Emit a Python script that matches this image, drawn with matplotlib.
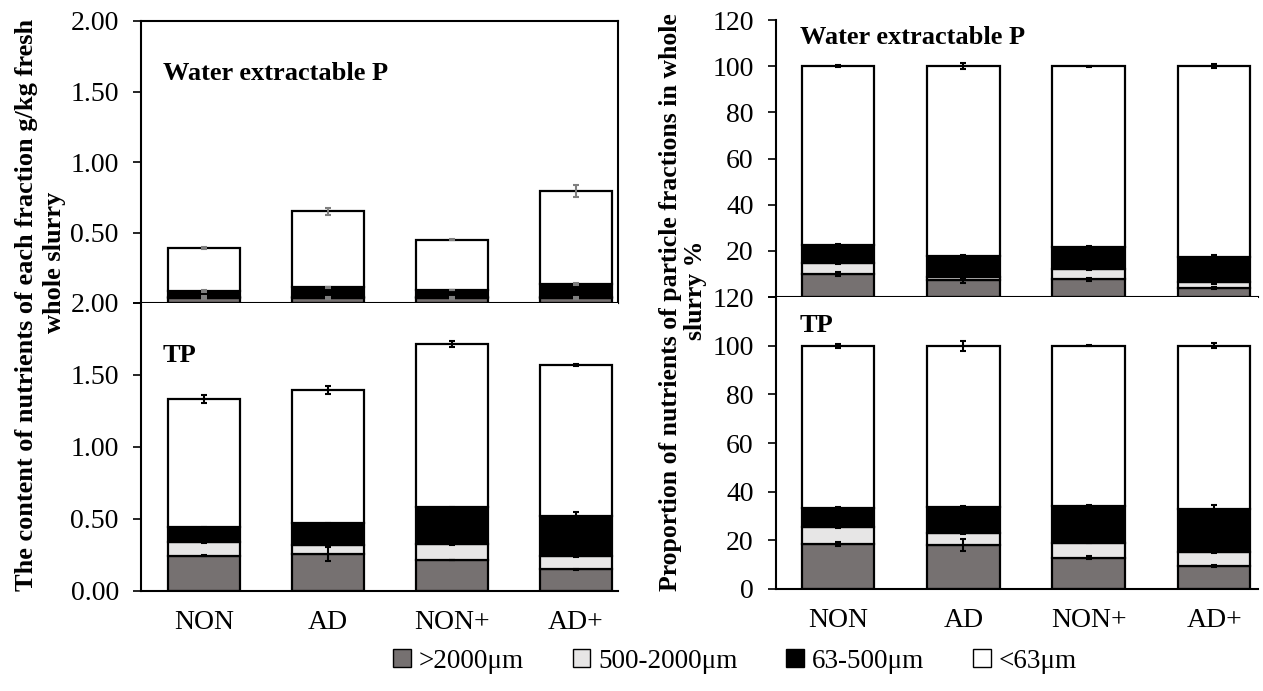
import numpy as np
import matplotlib
matplotlib.use("Agg")
import matplotlib.pyplot as plt
from matplotlib.patches import Patch

plt.rcParams['font.family'] = ['Liberation Serif', 'DejaVu Serif']

# categories and fractions
treatments = ['NON', 'AD', 'NON+', 'AD+']
fractions = ['>2000\u03bcm', '500-2000\u03bcm', '63-500\u03bcm', '<63\u03bcm']
colors = ['#767171', '#e7e6e6', '#000000', '#ffffff']

# Water extractable P, g/kg fresh whole slurry (segment values per fraction)
wep_gt2000 = [0.032, 0.033, 0.032, 0.032]
wep_500_2000 = [0.014, 0.007, 0.008, 0.008]
wep_63_500 = [0.039, 0.071, 0.052, 0.095]
wep_lt63 = [0.305, 0.539, 0.358, 0.660]
wep_err = [[0.003, 0.003, 0.003, 0.003],
           [0.004, 0.002, 0.003, 0.003],
           [0.005, 0.006, 0.003, 0.010],
           [0.005, 0.025, 0.004, 0.040]]

# TP, g/kg fresh whole slurry
tp_gt2000 = [0.242, 0.254, 0.212, 0.147]
tp_500_2000 = [0.093, 0.066, 0.111, 0.091]
tp_63_500 = [0.105, 0.147, 0.256, 0.278]
tp_lt63 = [0.892, 0.928, 1.136, 1.054]
tp_err = [[0.005, 0.050, 0.003, 0.006],
          [0.004, 0.012, 0.003, 0.004],
          [0.003, 0.003, 0.003, 0.030],
          [0.030, 0.025, 0.018, 0.006]]

# Water extractable P, % of whole slurry
wep_pct_gt2000 = [9.9, 7.3, 7.7, 3.9]
wep_pct_500_2000 = [4.9, 1.5, 4.3, 2.5]
wep_pct_63_500 = [7.9, 8.8, 9.7, 11.0]
wep_pct_lt63 = [77.3, 82.4, 78.3, 82.6]
wep_pct_err = [[0.8, 1.2, 0.6, 0.5],
               [0.3, 0.4, 0.3, 0.6],
               [0.3, 0.6, 0.2, 0.8],
               [0.3, 1.3, 0.2, 1.0]]

# TP, % of whole slurry
tp_pct_gt2000 = [18.4, 18.2, 12.8, 9.5]
tp_pct_500_2000 = [7.0, 4.7, 6.3, 5.7]
tp_pct_63_500 = [7.8, 10.8, 15.1, 17.7]
tp_pct_lt63 = [66.8, 66.3, 65.8, 67.1]
tp_pct_err = [[0.8, 2.5, 0.6, 0.5],
              [0.3, 0.5, 0.2, 0.3],
              [0.3, 0.3, 0.2, 1.7],
              [0.8, 2.0, 0.3, 1.0]]

W, H = 1263, 691
fig = plt.figure(figsize=(W / 100, H / 100), dpi=100)


def box(x0, y0, x1, y1):
    # pixel box -> figure fraction rect
    return [x0 / W, 1 - y1 / H, (x1 - x0) / W, (y1 - y0) / H]


def stacked(ax, segs, errs, ecolor):
    x = np.arange(len(treatments))
    bottom = np.zeros(len(treatments))
    for vals, err, c in zip(segs, errs, colors):
        vals = np.array(vals)
        ax.bar(x, vals, 0.58, bottom=bottom, color=c, edgecolor='black',
               linewidth=1.6, zorder=2)
        bottom = bottom + vals
        ax.errorbar(x, bottom, yerr=err, fmt='none', ecolor=ecolor,
                    elinewidth=1.5, capsize=2.5, capthick=1.5, zorder=3)
    return x


def style(ax, ylim, yticks, fmt, show_x, hide_bottom_label):
    ax.set_ylim(*ylim)
    ax.set_yticks(yticks)
    labels = [fmt.format(t) for t in yticks]
    if hide_bottom_label:
        labels[0] = ''
    ax.set_yticklabels(labels)
    ax.tick_params(axis='y', direction='out', length=6, width=1.2,
                   labelsize=20, pad=10)
    ax.tick_params(axis='x', length=0, labelsize=20, pad=14)
    for s in ax.spines.values():
        s.set_linewidth(1.5)
    if show_x:
        ax.set_xticks(np.arange(len(treatments)))
        ax.set_xticklabels(treatments)
    else:
        ax.set_xticks([])


def title(x, y, s):
    fig.text(x / W, 1 - y / H, s, ha='left', va='center', fontsize=19,
             fontweight='bold')


# left column
ax_tl = fig.add_axes(box(141, 21, 618, 303))
stacked(ax_tl, [wep_gt2000, wep_500_2000, wep_63_500, wep_lt63], wep_err, '#7f7f7f')
ax_tl.set_xlim(-0.51, 3.34)
style(ax_tl, (0, 2.0), [0, 0.5, 1.0, 1.5, 2.0], '{:.2f}', False, True)

ax_bl = fig.add_axes(box(141, 303, 618, 590.5))
stacked(ax_bl, [tp_gt2000, tp_500_2000, tp_63_500, tp_lt63], tp_err, 'black')
ax_bl.set_xlim(-0.51, 3.34)
style(ax_bl, (0, 2.0), [0, 0.5, 1.0, 1.5, 2.0], '{:.2f}', True, False)
ax_bl.spines['top'].set_visible(False)
ax_bl.spines['right'].set_visible(False)

# right column
ax_tr = fig.add_axes(box(776, 20, 1258, 297))
stacked(ax_tr, [wep_pct_gt2000, wep_pct_500_2000, wep_pct_63_500, wep_pct_lt63],
        wep_pct_err, 'black')
ax_tr.set_xlim(-0.494, 3.35)
style(ax_tr, (0, 120), list(range(0, 121, 20)), '{:d}', False, True)
ax_tr.spines['top'].set_visible(False)
ax_tr.spines['right'].set_visible(False)

ax_br = fig.add_axes(box(776, 297, 1258, 589))
stacked(ax_br, [tp_pct_gt2000, tp_pct_500_2000, tp_pct_63_500, tp_pct_lt63],
        tp_pct_err, 'black')
ax_br.set_xlim(-0.494, 3.35)
style(ax_br, (0, 120), list(range(0, 121, 20)), '{:d}', True, False)
ax_br.spines['top'].set_visible(False)
ax_br.spines['right'].set_visible(False)

# panel titles
title(163, 73, 'Water extractable P')
title(163, 355, 'TP')
title(800, 38, 'Water extractable P')
title(800, 325, 'TP')

# y-axis titles
fig.text(27 / W, 1 - 305 / H, 'The content of nutrients of each fraction g/kg fresh',
         rotation=90, ha='center', va='center', fontsize=19, fontweight='bold')
fig.text(55 / W, 1 - 262 / H, 'whole slurry',
         rotation=90, ha='center', va='center', fontsize=19, fontweight='bold')
fig.text(670 / W, 1 - 302 / H, 'Proportion of nutrients of particle fractions in whole',
         rotation=90, ha='center', va='center', fontsize=18.5, fontweight='bold')
fig.text(696 / W, 1 - 290 / H, 'slurry %',
         rotation=90, ha='center', va='center', fontsize=18.5, fontweight='bold')

handles = [Patch(facecolor=c, edgecolor='black', linewidth=1.0) for c in colors]
fig.legend(handles, fractions, loc='center', bbox_to_anchor=(735 / W, 1 - 661 / H),
           ncol=4, frameon=False, fontsize=19.5, handlelength=0.65, handleheight=0.65,
           handletextpad=0.3, columnspacing=1.8)

fig.savefig('out.png', dpi=100)
